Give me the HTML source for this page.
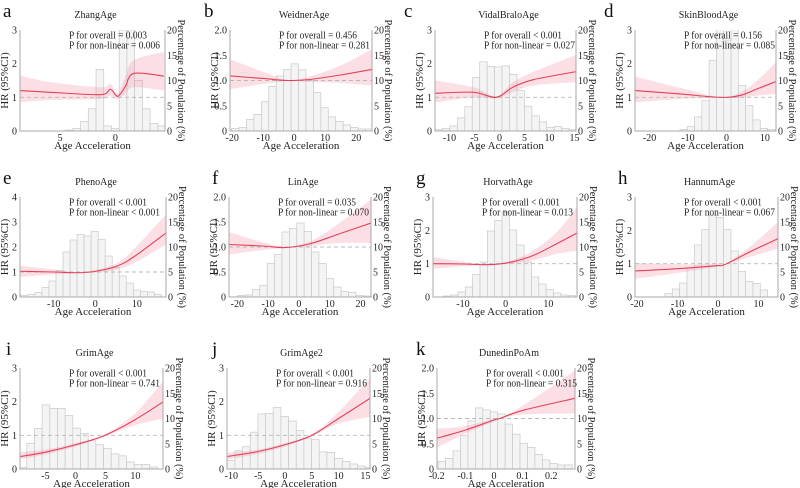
<!DOCTYPE html>
<html><head><meta charset="utf-8">
<style>
html,body{margin:0;padding:0;background:#fff;}
svg{display:block;}
svg text{font-family:"Liberation Serif","DejaVu Serif",serif;}
</style></head>
<body>
<svg id="fig" width="800" height="488" viewBox="0 0 800 488" font-family="Liberation Serif, DejaVu Serif, serif"></svg>
<script>
// ---- data ----
const aX=[-8.64,-5.9,-1.36,-0.45,0.21,0.9,1.67,4.4], aHR=[1.2,1.15,1.08,1.24,1.03,1.32,1.71,1.63], aLo=[0.85,0.92,0.95,1.05,0.95,1.1,1.3,1.2], aHi=[1.65,1.45,1.3,1.4,1.12,1.6,2.1,2.35];
const aHist=[0.2,0.5,1.9,4.4,12.2,1,0.5,20,20,10,4.4,1.5,1,0.5];
const bX=[-20.7,-10,-2,5,15,25.1], bHR=[1.09,1.04,1.0,1.02,1.11,1.22], bLo=[0.83,0.93,0.99,0.97,0.95,0.9], bHi=[1.42,1.17,1.01,1.08,1.3,1.62];
const bHist=[0.5,0.7,2.3,3.3,5.8,8.8,10.9,12.2,13.3,12.1,10,7.6,4.6,2.8,1.9,1.2,0.7,0.4,0.4];
const cX=[-12.9,-5.2,-0.67,2.67,6.67,15.2], cHR=[1.12,1.15,1.0,1.3,1.52,1.76], cLo=[0.85,1.0,0.97,1.15,1.35,1.45], cHi=[1.5,1.3,1.03,1.45,1.75,2.25];
const cHist=[0.3,0.5,1,2.6,4.8,10.6,13.7,12.8,12.7,12.9,11.2,8,4.9,3,1.8,0.7,0.9,0.5,0.3];
const dX=[-23.8,-12,-1.7,3.7,8,12.9], dHR=[1.2,1.1,1.0,1.06,1.25,1.47], dLo=[0.85,0.95,0.99,0.98,1.05,1.1], dHi=[1.62,1.28,1.01,1.15,1.5,2.05];
const dHist=[0.3,0.9,2.8,6,14,24,18,24,9,5,2.2,0.5,0.3];
const eX=[-18.1,-10,-4.2,0.1,5.1,9.2,17], eHR=[1.03,1.0,0.97,1.03,1.23,1.6,2.56], eLo=[0.8,0.9,0.96,0.98,1.1,1.35,2.1], eHi=[1.25,1.1,0.98,1.08,1.35,1.9,3.3];
const eHist=[0.3,0.5,0.9,1.9,3.2,5.3,9,11.4,12.5,12.2,13.1,11.5,8.2,5.9,4.2,2.8,1.4,1.1,1,0.5];
const fX=[-22.7,-12,-4,3.9,12.5,23.4], fHR=[1.05,1.02,0.99,1.07,1.25,1.48], fLo=[0.85,0.94,0.98,1.02,1.08,1.08], fHi=[1.3,1.1,1.0,1.12,1.45,1.95];
const fHist=[0.3,0.4,1.5,2.3,6.7,8.5,13,13.7,14.8,13.1,9,6.7,3.7,2,1.1,0.9,0.3,0.2];
const gX=[-17,-10,-4.1,1,6.5,12,16.7], gHR=[1.0,0.99,0.97,1.04,1.25,1.6,1.92], gLo=[0.85,0.92,0.96,1.0,1.1,1.3,1.38], gHi=[1.2,1.06,0.98,1.08,1.4,1.95,2.7];
const gHist=[0.2,0.4,1,2,4.5,7,13.2,15.3,17,13.4,10.4,7,4,2.6,1.5,0.8,0.4,0.3];
const hX=[-20.5,-10,-0.4,1.6,7.8,14.8], hHR=[0.78,0.85,0.94,0.97,1.35,1.75], hLo=[0.55,0.72,0.9,0.96,1.2,1.45], hHi=[1.02,0.98,0.98,0.98,1.5,2.25];
const hHist=[0.7,1.6,2.8,5.8,10.4,13.5,16.4,15.9,13.5,9.2,5.1,3.1,2.7,1.4];
const iX=[-9.25,-5,0,4.9,9.9,14.6], iHR=[0.37,0.5,0.72,1.0,1.46,1.99], iLo=[0.28,0.43,0.67,0.97,1.3,1.5], iHi=[0.5,0.58,0.77,1.03,1.65,2.6];
const iHist=[0.3,5.1,8,12.7,12,12,10.6,8.1,7,5.6,4.8,4.1,3,2.6,1.4,0.9,0.9,0.4];
const jX=[-10.8,-5,0,5,10,15.86], jHR=[0.37,0.52,0.72,1.0,1.5,2.1], jLo=[0.28,0.45,0.67,0.97,1.35,1.55], jHi=[0.48,0.58,0.77,1.03,1.7,2.7];
const jHist=[1.7,3.6,4.4,7.3,10.9,11,12.2,10.4,9.5,7.6,6,5.8,3.4,3.3,2.1,1.5,1,0.6,0.3];
const kX=[-0.199,-0.1,0,0.02,0.1,0.283], kHR=[0.61,0.77,0.97,1.0,1.16,1.4], kLo=[0.43,0.7,0.94,0.99,1.08,1.1], kHi=[0.8,0.85,1.0,1.01,1.25,1.95];
const kHist=[1.5,2.1,3.6,6.6,9.5,12.1,11.7,11.3,10.9,8.9,6.9,5.1,4.3,2.9,1.8,1.1,0.8,0.8];
const titles=["ZhangAge","WeidnerAge","VidalBraloAge","SkinBloodAge","PhenoAge","LinAge","HorvathAge","HannumAge","GrimAge","GrimAge2","DunedinPoAm"];
const pOverall=["= 0.003","= 0.456","< 0.001","= 0.156","< 0.001","= 0.035","< 0.001","< 0.001","< 0.001","< 0.001","< 0.001"];
const pNonlin=["= 0.006","= 0.281","= 0.027","= 0.085","< 0.001","= 0.070","= 0.013","= 0.067","= 0.741","= 0.916","= 0.315"];
const letters=["a","b","c","d","e","f","g","h","i","j","k"];
const xTicks=[[-5,0],[-20,-10,0,10,20],[-10,-5,0,5,10,15],[-20,-10,0,10],[-10,0,10],[-20,-10,0,10,20],[-10,0,10],[-20,-10,0,10],[-5,0,5,10],[-10,-5,0,5,10,15],[-0.2,-0.1,0,0.1,0.2]];
const xTickLabels=[["5","0"],["-20","-10","0","10","20"],["-10","-5","0","5","10","15"],["-20","-10","0","10"],["-10","0","10"],["-20","-10","0","10","20"],["-10","0","10"],["-20","-10","0","10"],["-5","0","5","10"],["-10","-5","0","5","10","15"],["-0.2","-0.1","0","0.1","0.2"]];
const yTicks3=[0,1,2,3], yTicks3L=["0","1","2","3"];
const yTicks4=[0,1,2,3,4], yTicks4L=["0","1","2","3","4"];
const yTicks2=[0,0.5,1,1.5,2], yTicks2L=["0","0.5","1.0","1.5","2.0"];
const pctTicks=[0,5,10,15,20];

// ---- layout (geometry, not data) ----
const panels=[
 {L:20,R:165,T:30,B:131,x0:-8.64,x1:4.5,ymax:3,yt:yTicks3,ytl:yTicks3L,X:aX,HR:aHR,Lo:aLo,Hi:aHi,H:aHist,hs:-4.55,hw:0.7,lx:3},
 {L:230,R:372,T:30,B:131,x0:-20.7,x1:25.1,ymax:2,yt:yTicks2,ytl:yTicks2L,X:bX,HR:bHR,Lo:bLo,Hi:bHi,H:bHist,hs:-20.2,hw:2.4,lx:204},
 {L:435,R:576,T:30,B:131,x0:-12.9,x1:15.3,ymax:3,yt:yTicks3,ytl:yTicks3L,X:cX,HR:cHR,Lo:cLo,Hi:cHi,H:cHist,hs:-12.9,hw:1.49,lx:404},
 {L:635,R:776,T:30,B:131,x0:-23.8,x1:12.9,ymax:3,yt:yTicks3,ytl:yTicks3L,X:dX,HR:dHR,Lo:dLo,Hi:dHi,H:dHist,hs:-12.1,hw:1.9,lx:604},
 {L:20,R:166,T:197,B:297,x0:-18.1,x1:17,ymax:4,yt:yTicks4,ytl:yTicks4L,X:eX,HR:eHR,Lo:eLo,Hi:eHi,H:eHist,hs:-17.9,hw:1.69,lx:3},
 {L:229,R:371,T:197,B:297,x0:-22.7,x1:23.4,ymax:2,yt:yTicks2,ytl:yTicks2L,X:fX,HR:fHR,Lo:fLo,Hi:fHi,H:fHist,hs:-19.9,hw:2.4,lx:212},
 {L:433,R:577,T:197,B:297,x0:-17,x1:16.7,ymax:3,yt:yTicks3,ytl:yTicks3L,X:gX,HR:gHR,Lo:gLo,Hi:gHi,H:gHist,hs:-14.6,hw:1.72,lx:416},
 {L:635,R:778,T:197,B:297,x0:-20.5,x1:14.8,ymax:3,yt:yTicks3,ytl:yTicks3L,X:hX,HR:hHR,Lo:hLo,Hi:hHi,H:hHist,hs:-13.1,hw:1.81,lx:618},
 {L:20,R:163,T:368,B:469,x0:-9.25,x1:14.6,ymax:3,yt:yTicks3,ytl:yTicks3L,X:iX,HR:iHR,Lo:iLo,Hi:iHi,H:iHist,hs:-9.4,hw:1.28,lx:6},
 {L:227,R:370,T:368,B:469,x0:-10.8,x1:15.86,ymax:3,yt:yTicks3,ytl:yTicks3L,X:jX,HR:jHR,Lo:jLo,Hi:jHi,H:jHist,hs:-10.76,hw:1.43,lx:212},
 {L:437,R:575,T:368,B:469,x0:-0.199,x1:0.283,ymax:2,yt:yTicks2,ytl:yTicks2L,X:kX,HR:kHR,Lo:kLo,Hi:kHi,H:kHist,hs:-0.195,hw:0.026,lx:416}
];

const NS="http://www.w3.org/2000/svg";
const FF='"Liberation Serif", "DejaVu Serif", serif';
const svg=document.getElementById('fig');
function mk(tag,attrs,parent){const e=document.createElementNS(NS,tag);for(const k in attrs)e.setAttribute(k,attrs[k]);(parent||svg).appendChild(e);return e;}
function txt(s,attrs,parent){attrs['font-family']=FF;const e=mk('text',attrs,parent);e.style.fontFamily=FF;e.textContent=s;return e;}
function smooth(pts){
  let d="M"+pts[0][0].toFixed(2)+","+pts[0][1].toFixed(2);
  for(let i=0;i<pts.length-1;i++){
    const p0=pts[Math.max(0,i-1)],p1=pts[i],p2=pts[i+1],p3=pts[Math.min(pts.length-1,i+2)];
    const c1=[p1[0]+(p2[0]-p0[0])/6,p1[1]+(p2[1]-p0[1])/6];
    const c2=[p2[0]-(p3[0]-p1[0])/6,p2[1]-(p3[1]-p1[1])/6];
    d+=" C"+c1[0].toFixed(2)+","+c1[1].toFixed(2)+" "+c2[0].toFixed(2)+","+c2[1].toFixed(2)+" "+p2[0].toFixed(2)+","+p2[1].toFixed(2);
  }
  return d;
}
function smoothCont(pts){return smooth(pts).replace(/^M/,"L");}

panels.forEach((p,idx)=>{
  const g=mk('g',{});
  
  
  const sx=v=>p.L+(v-p.x0)/(p.x1-p.x0)*(p.R-p.L);
  const sy=v=>p.B-v/p.ymax*(p.B-p.T);
  const sp=v=>p.B-v/20*(p.B-p.T);
  const cid='clip'+idx;
  const cp=mk('clipPath',{id:cid},g); mk('rect',{x:p.L,y:p.T,width:p.R-p.L,height:p.B-p.T},cp);
  const plot=mk('g',{'clip-path':'url(#'+cid+')'},g);
  p.H.forEach((v,i)=>{
    const x0=sx(p.hs+i*p.hw), x1=sx(p.hs+(i+1)*p.hw);
    const r=mk('rect',{x:x0,y:sp(v),width:Math.max(0,x1-x0),height:p.B-sp(v),fill:'#f5f4f5',stroke:'#c9c9c9','stroke-width':0.7},plot);
    
    
  });
  const up=p.X.map((x,i)=>[sx(x),sy(p.Hi[i])]);
  const dn=p.X.map((x,i)=>[sx(x),sy(p.Lo[i])]).reverse();
  const band=mk('path',{d:smooth(up)+" "+smoothCont(dn)+" Z",fill:'rgba(240,110,135,0.22)',stroke:'none'},plot);
  
  
  const ref=mk('line',{x1:p.L,x2:p.R,y1:sy(1),y2:sy(1),stroke:'#b8b8b8','stroke-width':0.9,'stroke-dasharray':'4,3'},plot);
  
  
  const cv=mk('path',{d:smooth(p.X.map((x,i)=>[sx(x),sy(p.HR[i])])),fill:'none',stroke:'#e4405a','stroke-width':1.1},plot);
  
  
  mk('path',{d:`M${p.L},${p.T}V${p.B}H${p.R}V${p.T}`,fill:'none',stroke:'#a8a8a8','stroke-width':1},g);
  p.yt.forEach((v,i)=>{const t=txt(p.ytl[i],{x:p.L-3,y:sy(v)+3.5,'font-size':10,'text-anchor':'end',fill:'#222'},g);
    });
  pctTicks.forEach(v=>{const t=txt(String(v),{x:p.R+2,y:sp(v)+3.5,'font-size':10,fill:'#222'},g);
    });
  xTicks[idx].forEach((v,i)=>{const t=txt(xTickLabels[idx][i],{x:sx(v),y:p.B+10,'font-size':10,'text-anchor':'middle',fill:'#222'},g);
    });
  const xt=txt('Age Acceleration',{x:(p.L+p.R)/2,y:p.B+18,'font-size':11,'text-anchor':'middle',fill:'#222'},g);
  
  const cy=(p.T+p.B)/2;
  const yl=txt('HR (95%CI)',{x:0,y:0,'font-size':11,'text-anchor':'middle',fill:'#222',transform:`translate(${p.L-12},${cy}) rotate(-90)`},g);
  
  const yr=txt('Percentage of Population (%)',{x:0,y:0,'font-size':11,'text-anchor':'middle',fill:'#222',textLength:122,lengthAdjust:'spacingAndGlyphs',transform:`translate(${p.R+13},${cy}) rotate(90)`},g);
  
  const ti=txt(titles[idx],{x:(p.L+p.R)/2+3,y:p.T-12,'font-size':10,'text-anchor':'middle',fill:'#222'},g);
  
  const p1=txt('P for overall '+pOverall[idx],{x:p.L+49,y:p.T+8.5,'font-size':10.5,fill:'#222',textLength:78,lengthAdjust:'spacingAndGlyphs'},g);
  
  const p2=txt('P for non-linear '+pNonlin[idx],{x:p.L+49,y:p.T+18.5,'font-size':10.5,fill:'#222',textLength:91,lengthAdjust:'spacingAndGlyphs'},g);
  
  const lt=txt(letters[idx],{x:p.lx,y:p.T-13,'font-size':19,fill:'#111'},g);
  
});
</script>
</body></html>
